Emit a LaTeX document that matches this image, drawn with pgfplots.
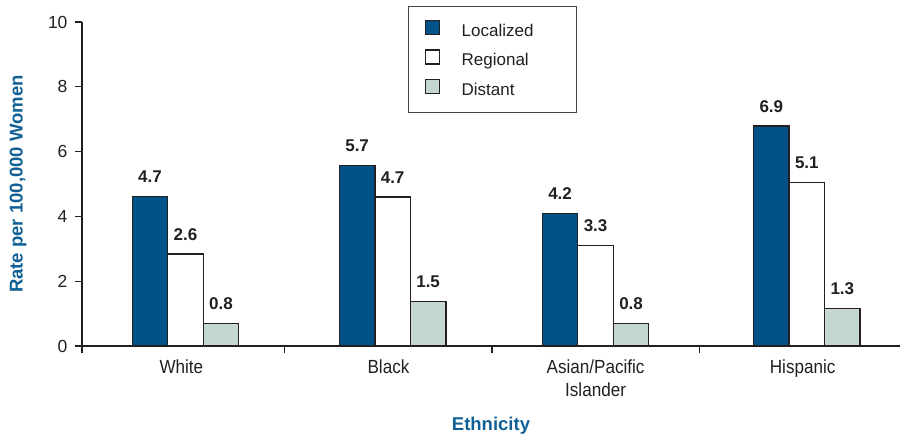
\documentclass[border=0pt]{standalone}
\usepackage{fontspec}
\setmainfont{Liberation Sans}
\newfontfamily\condfont{Liberation Sans}[FakeStretch=0.9]
\usepackage{pgfplots}
\usepackage{pgfplotstable}
\pgfplotsset{compat=1.18}

\definecolor{locblue}{RGB}{0,82,136}
\definecolor{distgray}{RGB}{197,215,211}
\definecolor{labblue}{RGB}{16,96,150}
\definecolor{inkdark}{RGB}{35,31,32}

% bar heights as drawn, labels as printed
\pgfplotstableread{
x y lab
0.02 4.62 4.7
1.02 5.58 5.7
2.00 4.10 4.2
3.02 6.79 6.9
}\localized
\pgfplotstableread{
x y lab
0.02 2.84 2.6
1.02 4.60 4.7
2.00 3.11 3.3
3.02 5.04 5.1
}\regional
\pgfplotstableread{
x y lab
0.02 0.69 0.8
1.02 1.38 1.5
2.00 0.69 0.8
3.02 1.16 1.3
}\distant

\pgfplotsset{
  legsq/.style={legend image code/.code={
      \draw[##1, draw=inkdark, line width=1.3pt] (0pt,-2.5pt) rectangle (14pt,11.5pt);}},
}

\begin{document}
\begin{tikzpicture}
\begin{axis}[
  name=ax,
  scale only axis, width=818pt, height=324pt,
  xmin=-0.48, xmax=3.47, ymin=0, ymax=10,
  axis x line*=bottom, axis y line*=left,
  axis line style={-, draw=inkdark, line width=1.1pt},
  tick align=outside, major tick length=0pt, minor tick length=7pt,
  tick style={draw=inkdark, line width=1.1pt},
  ytick={0,2,...,10},
  minor ytick={0,2,...,10},
  yticklabel style={font=\fontsize{17.5}{20}\selectfont, text=inkdark, xshift=-11pt},
  /pgf/number format/assume math mode=true,
  xtick={0,1,2,3},
  xticklabels={White,Black,{Asian/Pacific\\Islander},Hispanic},
  minor xtick={-0.48,0.5,1.5,2.5},
  xticklabel style={align=center, text=inkdark, yshift=-10pt,
      font=\condfont\fontsize{19}{23}\selectfont},
  ybar=0pt, bar width=35.5pt,
  nodes near coords, point meta=explicit symbolic,
  every node near coord/.append style={font=\fontsize{17}{20}\selectfont\bfseries,
    text=inkdark, inner sep=0pt, yshift=13pt},
  xlabel={Ethnicity},
  ylabel={Rate per 100,000 Women},
  every axis x label/.style={at={(axis description cs:0.5,-0.2593)}, anchor=base,
    font=\fontsize{18.5}{22}\selectfont\bfseries, text=labblue},
  every axis y label/.style={at={(axis description cs:-0.0782,0.5)}, rotate=90, anchor=center,
    font=\fontsize{18.5}{22}\selectfont\bfseries, text=labblue},
  legend style={at={(0.3985,1.049)}, anchor=north west,
    draw=inkdark!85, line width=0.8pt,
    inner xsep=16.5pt, inner ysep=13.5pt, row sep=9.5pt, column sep=21.5pt,
    nodes={inner sep=0pt, text height=12pt, text depth=3.5pt},
    font=\fontsize{17}{20}\selectfont, text=inkdark, cells={anchor=west}},
]
\addplot[fill=locblue, draw=inkdark, line width=1.3pt, legsq]
  table[x=x, y=y, meta=lab] {\localized};
\addlegendentry{\makebox[98pt][l]{Localized}}
\addplot[fill=white, draw=inkdark, line width=1.3pt, legsq]
  table[x=x, y=y, meta=lab] {\regional};
\addlegendentry{\makebox[98pt][l]{Regional}}
\addplot[fill=distgray, draw=inkdark, line width=1.3pt, legsq]
  table[x=x, y=y, meta=lab] {\distant};
\addlegendentry{\makebox[98pt][l]{Distant}}
\end{axis}
\path (ax.south west) ++(-82pt,-91pt) rectangle ++(901pt,437pt);
\end{tikzpicture}
\end{document}
